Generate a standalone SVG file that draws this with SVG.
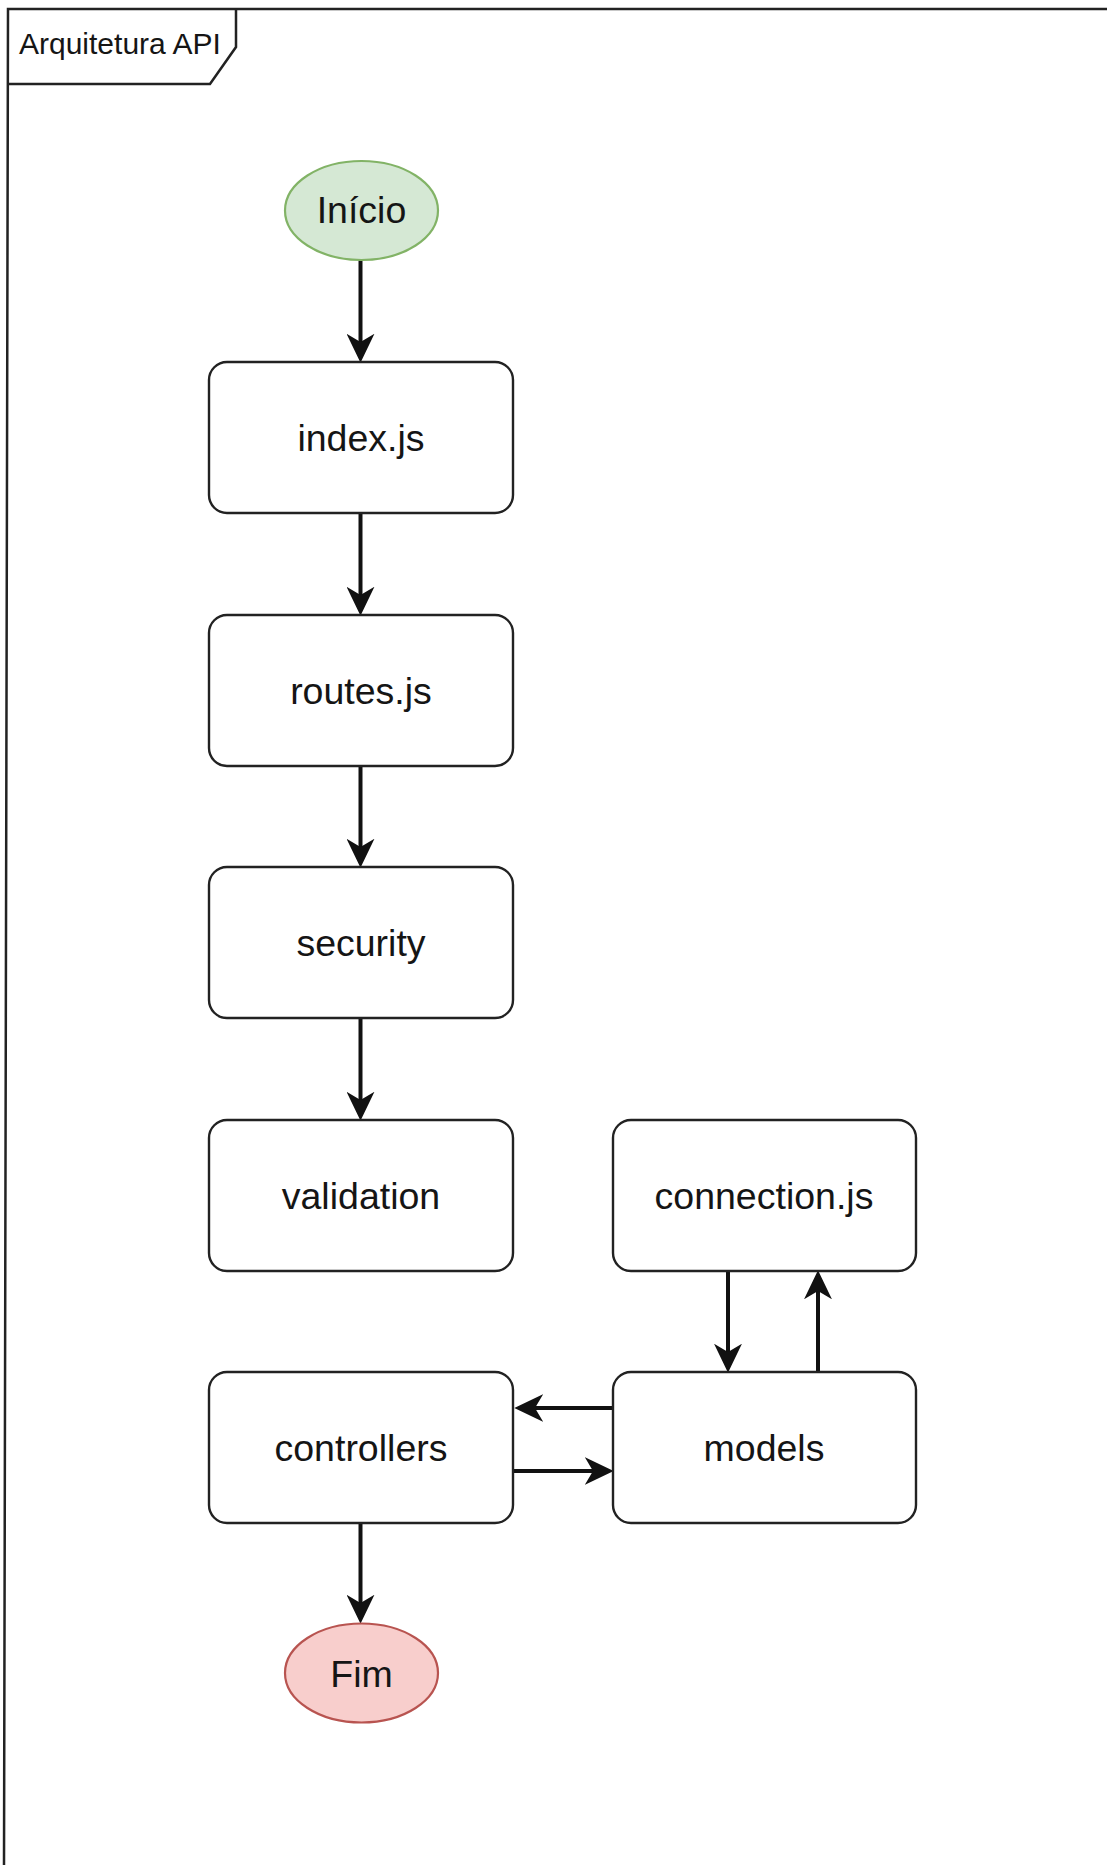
<svg xmlns="http://www.w3.org/2000/svg" width="1107" height="1865" viewBox="0 0 1107 1865">
  <style>
    .frame { fill: none; stroke: #222; stroke-width: 2.5; }
    .box { fill: #ffffff; stroke: #222; stroke-width: 2.4; }
    .start { fill: #d5e8d4; stroke: #82b366; stroke-width: 2.2; }
    .end { fill: #f8cecc; stroke: #b85450; stroke-width: 2.2; }
    .label { font-family: "Liberation Sans", Arial, sans-serif; font-size: 37.5px; fill: #151515; text-anchor: middle; }
    .title { font-family: "Liberation Sans", Arial, sans-serif; font-size: 30px; fill: #151515; }
    .edge { fill: none; stroke: #111; stroke-width: 4; }
  </style>
  <defs>
    <marker id="arrow" markerUnits="userSpaceOnUse" markerWidth="30" markerHeight="28" refX="8" refY="13.5" orient="auto" viewBox="0 0 29 27">
      <path d="M0,0 L28,13.5 L0,27 L8,13.5 Z" fill="#111"/>
    </marker>
  </defs>

  <rect width="1107" height="1865" fill="#ffffff"/>

  <!-- outer frame with title tab -->
  <g id="frame">
    <path class="frame" d="M1107,9 H8 L4,1865"/>
    <path class="frame" d="M8,84 H210 L236,47 V9"/>
    <text class="title" x="19" y="54">Arquitetura API</text>
  </g>

  <!-- connectors -->
  <g id="connectors">
    <path class="edge" d="M360.5,260 V342" marker-end="url(#arrow)"/>
    <path class="edge" d="M360.5,513 V595" marker-end="url(#arrow)"/>
    <path class="edge" d="M360.5,766 V847" marker-end="url(#arrow)"/>
    <path class="edge" d="M360.5,1018 V1100" marker-end="url(#arrow)"/>
    <path class="edge" d="M360.5,1523 V1603" marker-end="url(#arrow)"/>
    <path class="edge" d="M613,1408 H535" marker-end="url(#arrow)"/>
    <path class="edge" d="M513,1471 H593" marker-end="url(#arrow)"/>
    <path class="edge" d="M728,1271 V1352" marker-end="url(#arrow)"/>
    <path class="edge" d="M818,1372 V1291" marker-end="url(#arrow)"/>
  </g>

  <g id="inicio">
    <ellipse class="start" cx="361.5" cy="210.5" rx="76.5" ry="49.5"/>
    <text class="label" x="361.5" y="223">Início</text>
  </g>

  <g id="index">
    <rect class="box" x="209" y="362" width="304" height="151" rx="18"/>
    <text class="label" x="361" y="451">index.js</text>
  </g>

  <g id="routes">
    <rect class="box" x="209" y="615" width="304" height="151" rx="18"/>
    <text class="label" x="361" y="704">routes.js</text>
  </g>

  <g id="security">
    <rect class="box" x="209" y="867" width="304" height="151" rx="18"/>
    <text class="label" x="361" y="956">security</text>
  </g>

  <g id="validation">
    <rect class="box" x="209" y="1120" width="304" height="151" rx="18"/>
    <text class="label" x="361" y="1209">validation</text>
  </g>

  <g id="controllers">
    <rect class="box" x="209" y="1372" width="304" height="151" rx="18"/>
    <text class="label" x="361" y="1461">controllers</text>
  </g>

  <g id="connection">
    <rect class="box" x="613" y="1120" width="303" height="151" rx="18"/>
    <text class="label" x="764" y="1209">connection.js</text>
  </g>

  <g id="models">
    <rect class="box" x="613" y="1372" width="303" height="151" rx="18"/>
    <text class="label" x="764" y="1461">models</text>
  </g>

  <g id="fim">
    <ellipse class="end" cx="361.5" cy="1673" rx="76.5" ry="49.5"/>
    <text class="label" x="361.5" y="1686.5">Fim</text>
  </g>
</svg>
